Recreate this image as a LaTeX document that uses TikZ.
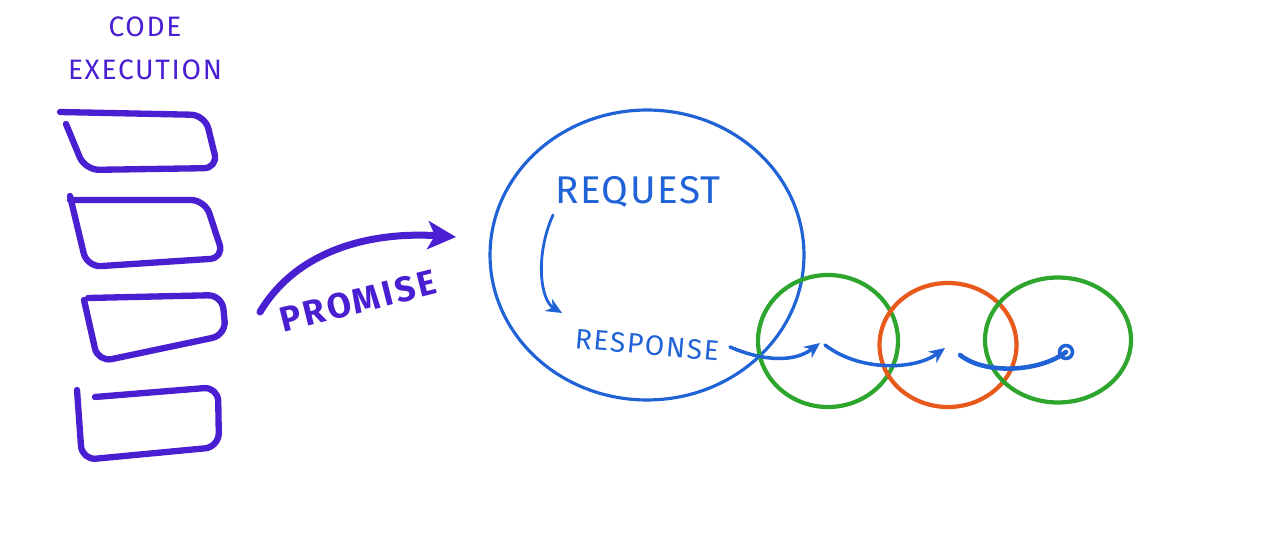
\documentclass[tikz,border=0pt]{standalone}
\usepackage{fontspec}
\setmainfont{Fira Sans}
\usetikzlibrary{shapes.geometric,arrows.meta}
\definecolor{purp}{HTML}{4A1FD2}
\definecolor{blu}{HTML}{1F63D6}
\definecolor{grn}{HTML}{2EA62E}
\definecolor{org}{HTML}{E85A1C}
\begin{document}
\begin{tikzpicture}[x=0.02cm,y=-0.02cm,
  lbl/.style={inner sep=0pt,font=\fontsize{16}{16}\selectfont\addfontfeatures{LetterSpace=6}},
  stack/.style={draw=purp,line width=3.6pt,rounded corners=8pt,line cap=round,line join=round},
  ring/.style={ellipse,draw,line width=2.4pt,inner sep=0pt},
  flow/.style={draw=blu,line width=2pt,line cap=round,-{Stealth[length=9pt,width=8pt]}}]
\useasboundingbox (0,0) rectangle (1280,536);
% title
\node[lbl,text=purp] (code) at (145,27) {CODE};
\node[lbl,text=purp] (exec) at (145,70) {EXECUTION};
% stack of boxes
\draw[stack] (60,112) -- (205,115) -- (218,168) -- (85,170) -- (66,124);
\draw[stack] (70,200) -- (205,200) -- (224,258) -- (87,267) -- (70,196);
\draw[stack] (88,298) -- (222,295) -- (226,335) -- (98,362) -- (84,300);
\draw[stack] (95,397) -- (218,387) -- (219,447) -- (82,460) -- (77,390);
% promise arrow
\coordinate (ps) at (260,312);
\coordinate (pe) at (456,237);
\draw[draw=purp,line width=4pt,line cap=round,-{Stealth[length=16pt,width=16pt,inset=4pt]}]
  (ps) .. controls (300,245) and (380,232) .. (pe);
\node[lbl,text=purp,rotate=14,font=\fontsize{20}{20}\selectfont\bfseries\addfontfeatures{LetterSpace=8}] (prom) at (358,301) {PROMISE};
% request circle
\node[ring,draw=blu,line width=1.8pt,minimum width=6.28cm,minimum height=5.8cm] (req) at (647,255) {};
\node[lbl,text=blu,font=\fontsize{22}{22}\selectfont\addfontfeatures{LetterSpace=4}] (rq) at (638,192) {REQUEST};
\node[lbl,text=blu,rotate=-5] (rs) at (647,345) {RESPONSE};
\draw[flow,line width=1.6pt] (553,215) .. controls (535,255) and (540,300) .. (562,313);
% chain of rings
\node[ring,draw=grn,minimum width=2.8cm,minimum height=2.64cm] (g1) at (828,341) {};
\node[ring,draw=org,minimum width=2.74cm,minimum height=2.48cm] (o1) at (948,345) {};
\node[ring,draw=grn,minimum width=2.92cm,minimum height=2.5cm] (g2) at (1058,340) {};
% flow arrows
\coordinate (a0) at (730,347);
\coordinate (a1) at (820,343);
\coordinate (b0) at (825,345);
\coordinate (b1) at (945,348);
\coordinate (c0) at (960,355);
\coordinate (c1) at (1066,352);
\draw[flow] (a0) .. controls (765,362) and (795,362) .. (a1);
\draw[flow] (b0) .. controls (860,372) and (915,370) .. (b1);
\draw[draw=blu,line width=2.6pt,line cap=round] (c0) .. controls (985,375) and (1040,372) .. (c1);
\node[circle,draw=blu,line width=2pt,minimum size=0.26cm,inner sep=0pt] (dot) at (1066,352) {};
\end{tikzpicture}
\end{document}
